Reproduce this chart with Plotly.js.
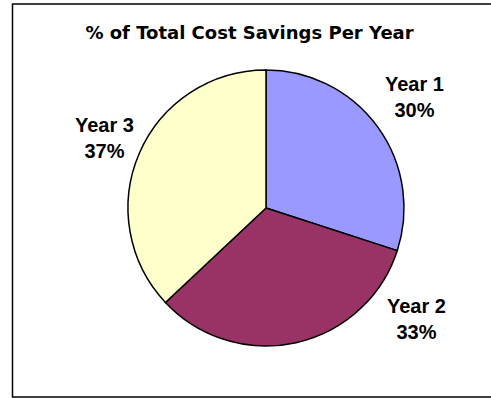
<!DOCTYPE html>
<html>
<head>
<meta charset="utf-8">
<script src="https://cdn.plot.ly/plotly-3.0.1.min.js"></script>
<style>html,body{margin:0;padding:0;background:#fff;overflow:hidden;}#chart{width:491px;height:398px;}</style>
</head>
<body>
<div id="chart"></div>
<script>
var categories = ["Year 1", "Year 2", "Year 3"];
var values = [30, 33, 37];
var colors = ["#9999FF", "#993366", "#FFFFCC"];
var chartTitle = "% of Total Cost Savings Per Year";

var W = 491, H = 398;
var cx = 266, cy = 208, R = 138;

var total = values.reduce(function(a, b){ return a + b; }, 0);
var labelPos = [
  {x: 414, y: 97},
  {x: 416, y: 319},
  {x: 104, y: 138}
];
var annotations = categories.map(function(c, i){
  return {
    xref: "paper", yref: "paper",
    x: labelPos[i].x / W, y: 1 - labelPos[i].y / H,
    xanchor: "center", yanchor: "middle",
    text: "<b>" + c + "</b><br><b>" + Math.round(values[i] / total * 100) + "%</b>",
    showarrow: false, align: "center",
    font: {family: "Liberation Sans, Arial, sans-serif", size: 20, color: "#000"}
  };
});

var trace = {
  type: "pie",
  labels: categories,
  values: values,
  sort: false,
  direction: "clockwise",
  rotation: 0,
  marker: {colors: colors, line: {color: "#000", width: 1.5}},
  textinfo: "none",
  hoverinfo: "label+percent",
  showlegend: false,
  domain: {x: [(cx - R) / W, (cx + R) / W], y: [(H - cy - R) / H, (H - cy + R) / H]}
};

var bx0 = 12.5 / W, bx1 = 1.2, by0 = 1 / H, by1 = 1 - 4 / H;
var layout = {
  width: W, height: H,
  margin: {l: 0, r: 0, t: 0, b: 0},
  paper_bgcolor: "#fff",
  showlegend: false,
  title: {
    text: "<b>" + chartTitle + "</b>",
    xref: "container", yref: "container",
    x: 249.5 / W, y: 1 - 33 / H, xanchor: "center", yanchor: "middle",
    font: {family: "DejaVu Sans", size: 18, color: "#000"}
  },
  annotations: annotations,
  shapes: [{
    type: "path", xref: "paper", yref: "paper",
    path: "M " + bx1 + "," + by0 + " L " + bx0 + "," + by0 + " L " + bx0 + "," + by1 + " L " + bx1 + "," + by1,
    fillcolor: "rgba(0,0,0,0)",
    line: {color: "#000", width: 1.5}
  }]
};

Plotly.newPlot("chart", [trace], layout, {displayModeBar: false, staticPlot: true});
</script>
</body>
</html>
